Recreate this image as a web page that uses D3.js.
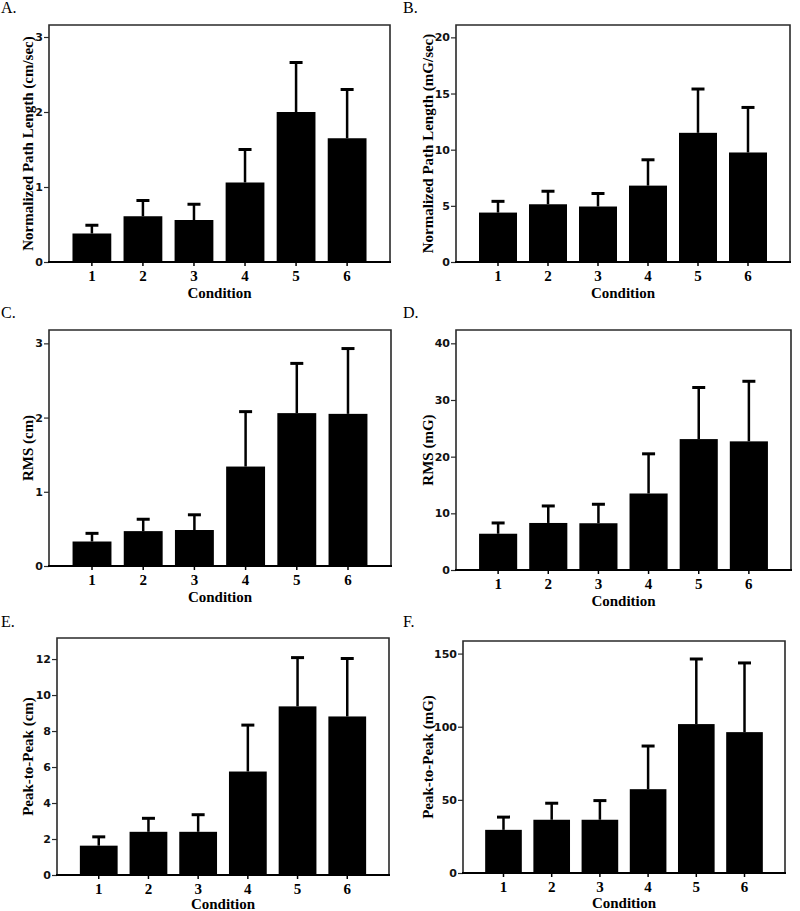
<!DOCTYPE html>
<html>
<head>
<meta charset="utf-8">
<script src="https://cdn.jsdelivr.net/npm/d3@7/dist/d3.min.js"></script>
<style>
  html, body { margin: 0; padding: 0; background: #fff; }
  svg { display: block; }
</style>
</head>
<body>
<svg id="chart" width="800" height="911"></svg>
<script>
// ---------------- DATA ----------------
const conditions = ["1", "2", "3", "4", "5", "6"];
const panelLetters = ["A.", "B.", "C.", "D.", "E.", "F."];
const yTitles = [
  "Normalized Path Length (cm/sec)",
  "Normalized Path Length (mG/sec)",
  "RMS (cm)",
  "RMS (mG)",
  "Peak-to-Peak (cm)",
  "Peak-to-Peak (mG)"
];
const xTitle = "Condition";

// bar means
const meanA = [0.38, 0.61, 0.56, 1.06, 2.00, 1.65];
const meanB = [4.4, 5.14, 4.94, 6.8, 11.5, 9.75];
const meanC = [0.33, 0.47, 0.485, 1.34, 2.06, 2.05];
const meanD = [6.4, 8.3, 8.25, 13.5, 23.1, 22.7];
const meanE = [1.63, 2.4, 2.4, 5.75, 9.37, 8.81];
const meanF = [29.5, 36.4, 36.4, 57.3, 101.8, 96.3];

// top of error bars (mean + SD)
const upperA = [0.49, 0.82, 0.77, 1.50, 2.66, 2.30];
const upperB = [5.4, 6.3, 6.1, 9.1, 15.4, 13.76];
const upperC = [0.44, 0.63, 0.69, 2.08, 2.73, 2.93];
const upperD = [8.3, 11.3, 11.6, 20.5, 32.2, 33.3];
const upperE = [2.12, 3.15, 3.35, 8.33, 12.08, 12.03];
const upperF = [38.2, 47.7, 49.5, 86.8, 146.3, 143.6];

// y tick values & axis extents
const ticksA = [0, 1, 2, 3];
const ticksB = [0, 5, 10, 15, 20];
const ticksC = [0, 1, 2, 3];
const ticksD = [0, 10, 20, 30, 40];
const ticksE = [0, 2, 4, 6, 8, 10, 12];
const ticksF = [0, 50, 100, 150];
const yDomainMax = [3.16, 21.1, 3.18, 42.35, 13.17, 158.6];

const means = [meanA, meanB, meanC, meanD, meanE, meanF];
const uppers = [upperA, upperB, upperC, upperD, upperE, upperF];
const yTicks = [ticksA, ticksB, ticksC, ticksD, ticksE, ticksF];

// ---------------- LAYOUT ----------------
const layout = [
  { lx: 1,   ly: 13,  left: 49,  right: 390, top: 25,  bottom: 262, tx: 33,  xt: 36 },
  { lx: 403, ly: 13,  left: 456, right: 790, top: 25,  bottom: 262, tx: 433, xt: 36 },
  { lx: 1,   ly: 318, left: 49,  right: 391, top: 330, bottom: 566, tx: 33,  xt: 36 },
  { lx: 403, ly: 318, left: 456, right: 791, top: 330, bottom: 570, tx: 433, xt: 36 },
  { lx: 1,   ly: 627, left: 57,  right: 389, top: 638, bottom: 875, tx: 33,  xt: 33.5 },
  { lx: 403, ly: 627, left: 463, right: 785, top: 641, bottom: 873, tx: 433, xt: 35 }
];

const serif = "'Liberation Serif', 'Times New Roman', Times, serif";
const sans = "'DejaVu Sans', Verdana, sans-serif";

const svg = d3.select("#chart");

layout.forEach((L, i) => {
  const g = svg.append("g");
  const x = d3.scaleBand()
    .domain(conditions)
    .range([L.left, L.right])
    .paddingInner(0.24)
    .paddingOuter(0.46);
  const y = d3.scaleLinear()
    .domain([0, yDomainMax[i]])
    .range([L.bottom, L.top]);

  const rows = conditions.map((c, k) => ({ c, m: means[i][k], u: uppers[i][k] }));

  // bars
  g.selectAll("rect.bar").data(rows).join("rect")
    .attr("class", "bar")
    .attr("x", d => x(d.c))
    .attr("width", x.bandwidth())
    .attr("y", d => y(d.m))
    .attr("height", d => y(0) - y(d.m))
    .attr("fill", "#000");

  // error bar stems
  g.selectAll("line.stem").data(rows).join("line")
    .attr("class", "stem")
    .attr("x1", d => x(d.c) + x.bandwidth() / 2)
    .attr("x2", d => x(d.c) + x.bandwidth() / 2)
    .attr("y1", d => y(d.m))
    .attr("y2", d => y(d.u))
    .attr("stroke", "#000")
    .attr("stroke-width", 2.5);

  // caps
  g.selectAll("line.cap").data(rows).join("line")
    .attr("class", "cap")
    .attr("x1", d => x(d.c) + x.bandwidth() / 2 - 6.5)
    .attr("x2", d => x(d.c) + x.bandwidth() / 2 + 6.5)
    .attr("y1", d => y(d.u))
    .attr("y2", d => y(d.u))
    .attr("stroke", "#000")
    .attr("stroke-width", 3);

  // frame (left, top, right)
  g.append("path")
    .attr("d", `M${L.left},${L.bottom}V${L.top}H${L.right}V${L.bottom}`)
    .attr("fill", "none")
    .attr("stroke", "#2a2a2a")
    .attr("stroke-width", 1.6);

  // y axis
  const yAxis = d3.axisLeft(y).tickValues(yTicks[i]).tickSize(5).tickPadding(1)
    .tickFormat(d3.format("d"));
  const ya = g.append("g").attr("transform", `translate(${L.left},0)`).call(yAxis);
  ya.select(".domain").remove();
  ya.selectAll(".tick line").attr("stroke", "#2a2a2a").attr("stroke-width", 1.2);
  ya.selectAll(".tick text")
    .attr("font-family", sans)
    .attr("font-weight", "bold")
    .attr("font-size", 11)
    .attr("fill", "#111");

  // x axis
  const xAxis = d3.axisBottom(x).tickSize(4).tickPadding(4);
  const xa = g.append("g").attr("transform", `translate(0,${L.bottom})`).call(xAxis);
  xa.select(".domain").remove();
  xa.selectAll(".tick line").attr("stroke", "#000").attr("stroke-width", 1.5);
  xa.selectAll(".tick text")
    .attr("font-family", serif)
    .attr("font-weight", "bold")
    .attr("font-size", 15)
    .attr("fill", "#000");

  // bottom axis line
  g.append("line")
    .attr("x1", L.left - 1).attr("x2", L.right + 1)
    .attr("y1", L.bottom).attr("y2", L.bottom)
    .attr("stroke", "#000").attr("stroke-width", 2);

  // x title
  g.append("text")
    .attr("x", (L.left + L.right) / 2)
    .attr("y", L.bottom + L.xt)
    .attr("text-anchor", "middle")
    .attr("font-family", serif)
    .attr("font-weight", "bold")
    .attr("font-size", 15)
    .text(xTitle);

  // y title
  g.append("text")
    .attr("transform", `translate(${L.tx},${(L.top + L.bottom) / 2}) rotate(-90)`)
    .attr("text-anchor", "middle")
    .attr("font-family", serif)
    .attr("font-weight", "bold")
    .attr("font-size", 15)
    .text(yTitles[i]);

  // panel letter
  g.append("text")
    .attr("x", L.lx)
    .attr("y", L.ly)
    .attr("font-family", serif)
    .attr("font-size", 16)
    .text(panelLetters[i]);
});
</script>
</body>
</html>
